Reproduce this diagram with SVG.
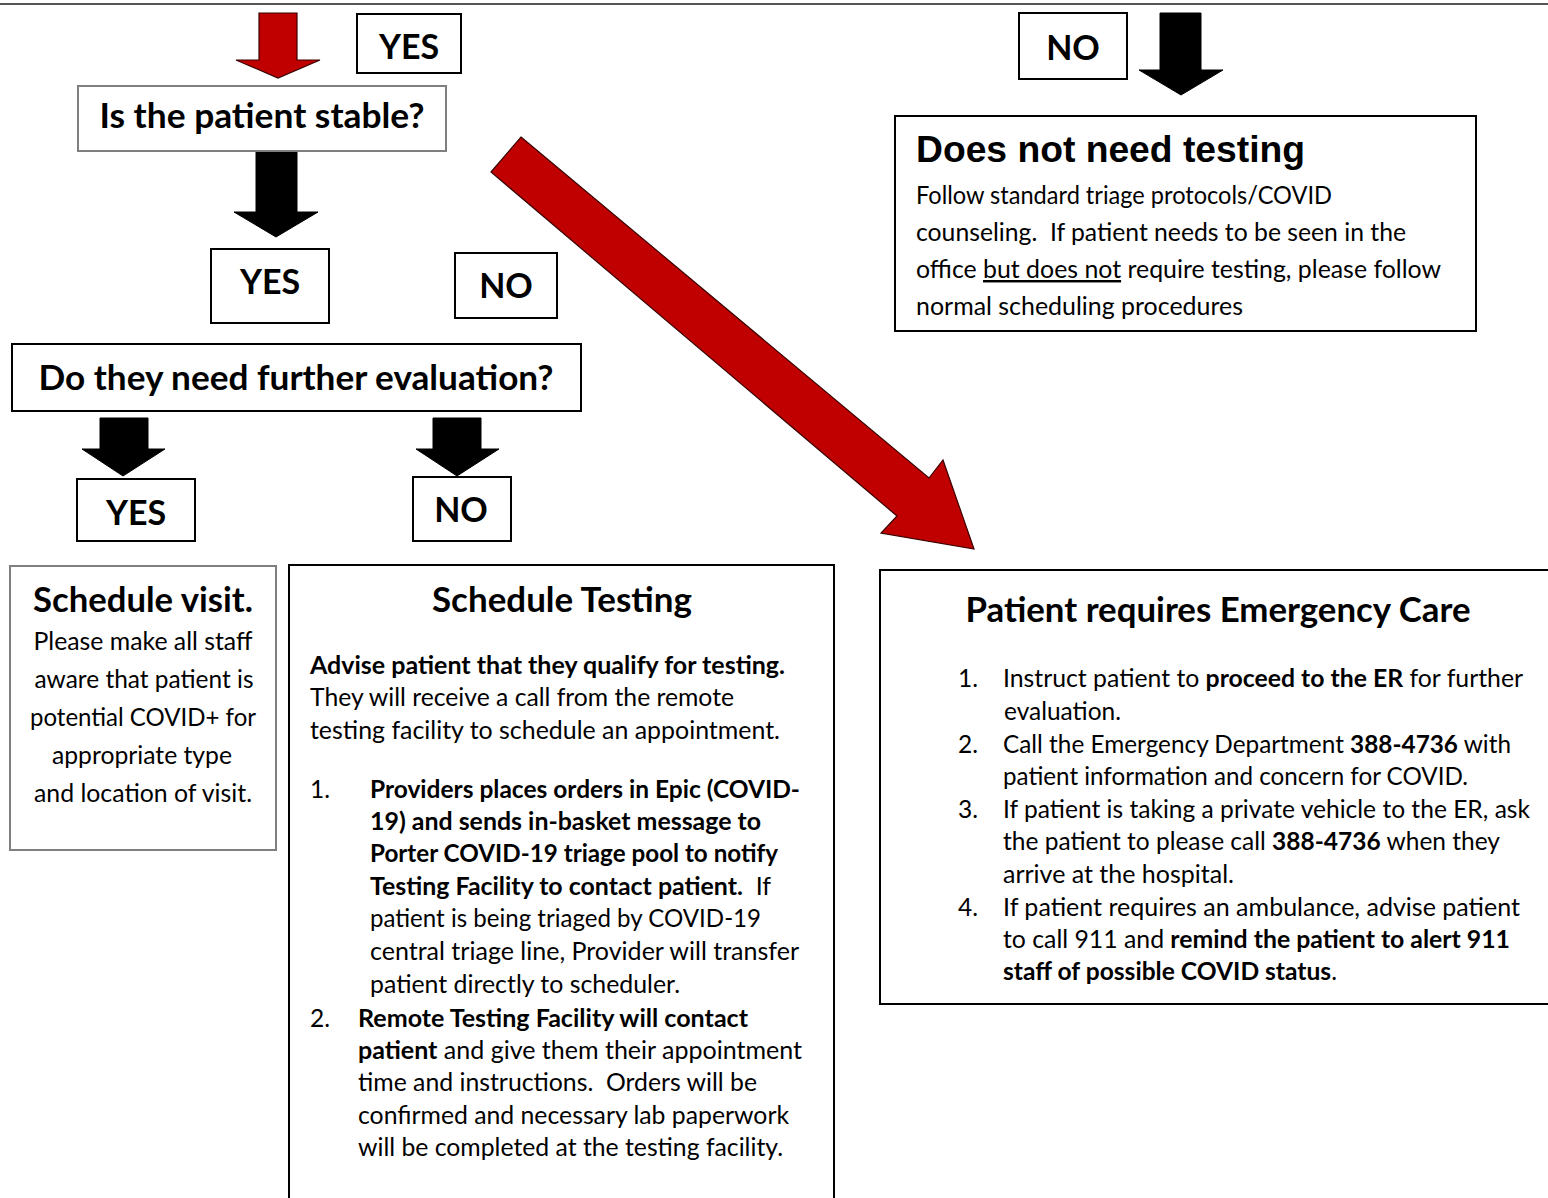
<svg xmlns="http://www.w3.org/2000/svg" width="1548" height="1198" viewBox="0 0 1548 1198">
<style>
.bx{fill:#fff;stroke:#000;stroke-width:2}
.gb{fill:#fff;stroke:#7f7f7f;stroke-width:2}
.red{fill:#c00000;stroke:#3a0000;stroke-width:1.2;stroke-linejoin:miter}
.blk{fill:#000;stroke:#000;stroke-width:1}
.h{font-family:Lato,"Liberation Sans",sans-serif;font-weight:700;font-size:34px;fill:#000}
.ar{font-family:"Liberation Sans",Arial,sans-serif;font-weight:700;font-size:37px;fill:#000}
.t{font-family:Lato,"Liberation Sans",sans-serif;font-size:24.5px;fill:#000}
.b{font-weight:700}
.c{text-anchor:middle}
</style>
<rect width="1548" height="1198" fill="#fff"/>
<line x1="0" y1="4" x2="1548" y2="4" stroke="#555" stroke-width="2"/>

<g id="connectors">
  <polygon class="red" points="259,13 297,13 297,60 320,60 278,78 236,60 259,60"/>
  <polygon class="blk" points="256,151 297,151 297,212 318,212 276,237 234,212 256,212"/>
  <polygon class="blk" points="100,418 148,418 148,449 165,449 123,476 82,449 100,449"/>
  <polygon class="blk" points="433,418 481,418 481,449 499,449 457,476 416,449 433,449"/>
  <polygon class="blk" points="1160,13 1201,13 1201,70 1223,70 1181,95 1139,70 1160,70"/>
  <polygon class="red" points="521,137 929,478 943,460 974,549 881,533 897,516 491,172"/>
</g>

<g id="yes-top">
  <rect class="bx" x="357" y="14" width="104" height="59"/>
  <text class="h c" x="409" y="59">YES</text>
</g>

<g id="stable">
  <rect class="gb" x="78" y="86" width="368" height="65"/>
  <text class="h c" x="262" y="128" textLength="325" lengthAdjust="spacingAndGlyphs">Is the patient stable?</text>
</g>

<g id="yes-mid">
  <rect class="bx" x="211" y="249" width="118" height="74"/>
  <text class="h c" x="270" y="294">YES</text>
</g>

<g id="no-mid">
  <rect class="bx" x="455" y="253" width="102" height="65"/>
  <text class="h c" x="506" y="298">NO</text>
</g>

<g id="further-eval">
  <rect class="bx" x="12" y="344" width="569" height="67"/>
  <text class="h c" x="296" y="390" textLength="515" lengthAdjust="spacingAndGlyphs">Do they need further evaluation?</text>
</g>

<g id="yes-bottom">
  <rect class="bx" x="77" y="479" width="118" height="62"/>
  <text class="h c" x="136" y="525">YES</text>
</g>

<g id="no-bottom">
  <rect class="bx" x="413" y="477" width="98" height="64"/>
  <text class="h c" x="461" y="522">NO</text>
</g>

<g id="no-top">
  <rect class="bx" x="1019" y="13" width="108" height="66"/>
  <text class="h c" x="1073" y="60">NO</text>
</g>

<g id="no-testing">
  <rect class="bx" x="895" y="116" width="581" height="215"/>
  <text class="ar" x="916" y="162" textLength="389" lengthAdjust="spacingAndGlyphs">Does not need testing</text>
  <text class="t" x="916" y="204" textLength="416" lengthAdjust="spacingAndGlyphs">Follow standard triage protocols/COVID</text>
  <text class="t" x="916" y="241" textLength="490" lengthAdjust="spacingAndGlyphs" xml:space="preserve">counseling.  If patient needs to be seen in the</text>
  <text class="t" x="916" y="278" textLength="525" lengthAdjust="spacingAndGlyphs">office <tspan text-decoration="underline">but does not</tspan> require testing, please follow</text>
  <text class="t" x="916" y="315" textLength="327" lengthAdjust="spacingAndGlyphs">normal scheduling procedures</text>
</g>

<g id="schedule-visit">
  <rect class="gb" x="10" y="566" width="266" height="284"/>
  <text class="h c" x="143" y="612" textLength="220" lengthAdjust="spacingAndGlyphs">Schedule visit.</text>
  <text class="t c" x="143" y="650" textLength="219" lengthAdjust="spacingAndGlyphs">Please make all staff</text>
  <text class="t c" x="144" y="688" textLength="219" lengthAdjust="spacingAndGlyphs">aware that patient is</text>
  <text class="t c" x="143" y="726" textLength="226" lengthAdjust="spacingAndGlyphs">potential COVID+ for</text>
  <text class="t c" x="142" y="764" textLength="180" lengthAdjust="spacingAndGlyphs">appropriate type</text>
  <text class="t c" x="143" y="802" textLength="218" lengthAdjust="spacingAndGlyphs">and location of visit.</text>
</g>

<g id="schedule-testing">
  <rect class="bx" x="289" y="565" width="545" height="650"/>
  <text class="h c" x="562" y="612" textLength="260" lengthAdjust="spacingAndGlyphs">Schedule Testing</text>
  <text class="t b" x="310" y="674" textLength="475" lengthAdjust="spacingAndGlyphs">Advise patient that they qualify for testing.</text>
  <text class="t" x="310" y="706" textLength="424" lengthAdjust="spacingAndGlyphs">They will receive a call from the remote</text>
  <text class="t" x="310" y="739" textLength="470" lengthAdjust="spacingAndGlyphs">testing facility to schedule an appointment.</text>
  <text class="t" x="310" y="798">1.</text>
  <text class="t b" x="370" y="798" textLength="430" lengthAdjust="spacingAndGlyphs">Providers places orders in Epic (COVID-</text>
  <text class="t b" x="370" y="830" textLength="391" lengthAdjust="spacingAndGlyphs">19) and sends in-basket message to</text>
  <text class="t b" x="370" y="862" textLength="408" lengthAdjust="spacingAndGlyphs">Porter COVID-19 triage pool to notify</text>
  <text class="t" x="370" y="895" textLength="401" lengthAdjust="spacingAndGlyphs" xml:space="preserve"><tspan class="b">Testing Facility to contact patient.</tspan>  If</text>
  <text class="t" x="370" y="927" textLength="391" lengthAdjust="spacingAndGlyphs">patient is being triaged by COVID-19</text>
  <text class="t" x="370" y="960" textLength="429" lengthAdjust="spacingAndGlyphs">central triage line, Provider will transfer</text>
  <text class="t" x="370" y="993" textLength="310" lengthAdjust="spacingAndGlyphs">patient directly to scheduler.</text>
  <text class="t" x="310" y="1027" font-size="27">2.</text>
  <text class="t b" x="358" y="1027" textLength="390" lengthAdjust="spacingAndGlyphs">Remote Testing Facility will contact</text>
  <text class="t" x="358" y="1059" textLength="444" lengthAdjust="spacingAndGlyphs"><tspan class="b">patient</tspan> and give them their appointment</text>
  <text class="t" x="358" y="1091" textLength="399" lengthAdjust="spacingAndGlyphs" xml:space="preserve">time and instructions.  Orders will be</text>
  <text class="t" x="358" y="1124" textLength="431" lengthAdjust="spacingAndGlyphs">confirmed and necessary lab paperwork</text>
  <text class="t" x="358" y="1156" textLength="425" lengthAdjust="spacingAndGlyphs">will be completed at the testing facility.</text>
</g>

<g id="emergency-care">
  <rect class="bx" x="880" y="570" width="680" height="434"/>
  <text class="h c" x="1218" y="622" textLength="505" lengthAdjust="spacingAndGlyphs">Patient requires Emergency Care</text>
  <text class="t" x="958" y="687">1.</text>
  <text class="t" x="1003" y="687" textLength="520" lengthAdjust="spacingAndGlyphs">Instruct patient to <tspan class="b">proceed to the ER</tspan> for further</text>
  <text class="t" x="1004" y="720" textLength="117" lengthAdjust="spacingAndGlyphs">evaluation.</text>
  <text class="t" x="958" y="753">2.</text>
  <text class="t" x="1003" y="753" textLength="508" lengthAdjust="spacingAndGlyphs">Call the Emergency Department <tspan class="b">388-4736</tspan> with</text>
  <text class="t" x="1003" y="785" textLength="465" lengthAdjust="spacingAndGlyphs">patient information and concern for COVID.</text>
  <text class="t" x="958" y="818">3.</text>
  <text class="t" x="1003" y="818" textLength="527" lengthAdjust="spacingAndGlyphs">If patient is taking a private vehicle to the ER, ask</text>
  <text class="t" x="1003" y="850" textLength="497" lengthAdjust="spacingAndGlyphs">the patient to please call <tspan class="b">388-4736</tspan> when they</text>
  <text class="t" x="1003" y="883" textLength="231" lengthAdjust="spacingAndGlyphs">arrive at the hospital.</text>
  <text class="t" x="958" y="916">4.</text>
  <text class="t" x="1003" y="916" textLength="517" lengthAdjust="spacingAndGlyphs">If patient requires an ambulance, advise patient</text>
  <text class="t" x="1003" y="948" textLength="507" lengthAdjust="spacingAndGlyphs">to call 911 and <tspan class="b">remind the patient to alert 911</tspan></text>
  <text class="t" x="1003" y="980" textLength="334" lengthAdjust="spacingAndGlyphs"><tspan class="b">staff of possible COVID status</tspan>.</text>
</g>
</svg>
